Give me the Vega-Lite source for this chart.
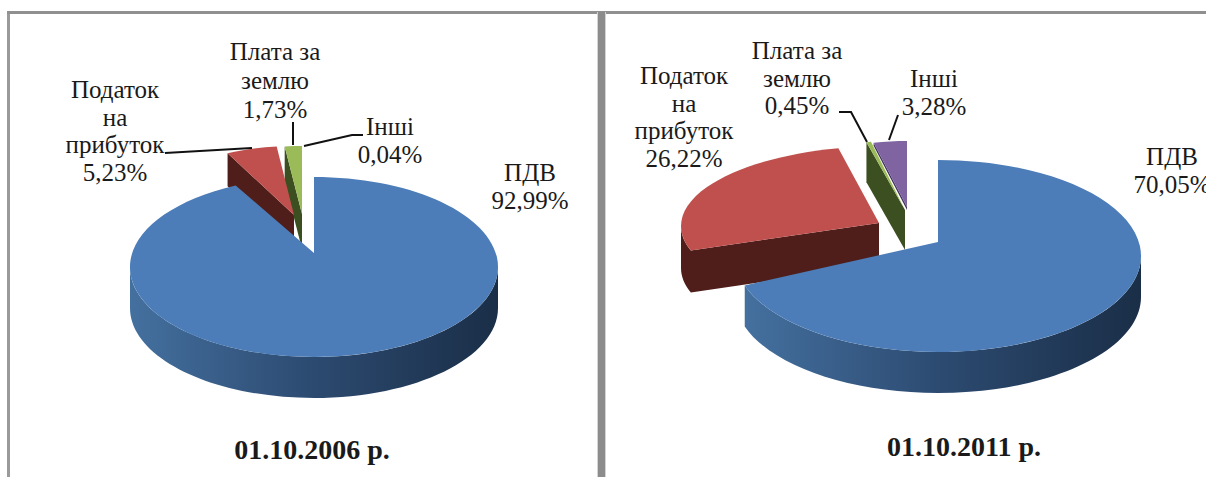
{"$schema":"https://vega.github.io/schema/vega-lite/v6.json","width":1206,"height":477,"padding":0,"autosize":{"type":"fit","contains":"padding"},"background":"white","config":{"view":{"stroke":null},"text":{"font":"Liberation Serif","fontSize":25,"lineHeight":27.5,"lineBreak":"\n","align":"center","baseline":"alphabetic","color":"#1a1a1a"}},
"data":{"values":[
{"chart":"01.10.2006 р.","name":"ПДВ","value":92.99},
{"chart":"01.10.2006 р.","name":"Податок на прибуток","value":5.23},
{"chart":"01.10.2006 р.","name":"Плата за землю","value":1.73},
{"chart":"01.10.2006 р.","name":"Інші","value":0.04},
{"chart":"01.10.2011 р.","name":"ПДВ","value":70.05},
{"chart":"01.10.2011 р.","name":"Податок на прибуток","value":26.22},
{"chart":"01.10.2011 р.","name":"Плата за землю","value":0.45},
{"chart":"01.10.2011 р.","name":"Інші","value":3.28}]},
"transform":[
{"joinaggregate":[{"op":"sum","field":"value","as":"total"}],"groupby":["chart"]},
{"window":[{"op":"sum","field":"value","as":"cum"}],"groupby":["chart"]},
{"calculate":"datum.chart+'|'+datum.name","as":"k"},
{"calculate":"{'01.10.2006 р.|ПДВ':[0,0,184,90,0,-14,41],'01.10.2006 р.|Податок на прибуток':[-20,-45,156,76,-20,-52,33],'01.10.2006 р.|Плата за землю':[-12,-45,156,76,-12,-53,35],'01.10.2006 р.|Інші':[-12,-45,156,76,-12,-53,35],'01.10.2011 р.|ПДВ':[0,0,203,96,0,-14,41],'01.10.2011 р.|Податок на прибуток':[-52,-30,205,80,-59,-33,42],'01.10.2011 р.|Плата за землю':[-33,-38,166,78,-33,-46,40],'01.10.2011 р.|Інші':[-31,-37,163,78,-31,-49,3]}[datum.k]","as":"g"},
{"calculate":"(datum.cum-datum.value)/datum.total*2*PI","as":"a0"},
{"calculate":"datum.cum/datum.total*2*PI","as":"a1"},
{"calculate":"max(datum.a0,PI/2)","as":"vs"},
{"calculate":"min(datum.a1,3*PI/2)","as":"ve"},
{"calculate":"round((datum.g[0]+datum.g[2]*sin(datum.a0))*100)/100+','+round((datum.g[1]-datum.g[3]*cos(datum.a0))*100)/100","as":"p0"},
{"calculate":"round((datum.g[0]+datum.g[2]*sin(datum.a1))*100)/100+','+round((datum.g[1]-datum.g[3]*cos(datum.a1))*100)/100","as":"p1"},
{"calculate":"round((datum.g[0]+datum.g[2]*sin(datum.a0))*100)/100+','+round((datum.g[1]-datum.g[3]*cos(datum.a0)+datum.g[6])*100)/100","as":"p0d"},
{"calculate":"round((datum.g[0]+datum.g[2]*sin(datum.vs))*100)/100+','+round((datum.g[1]-datum.g[3]*cos(datum.vs))*100)/100","as":"v0"},
{"calculate":"round((datum.g[0]+datum.g[2]*sin(datum.ve))*100)/100+','+round((datum.g[1]-datum.g[3]*cos(datum.ve))*100)/100","as":"v1"},
{"calculate":"round((datum.g[0]+datum.g[2]*sin(datum.vs))*100)/100+','+round((datum.g[1]-datum.g[3]*cos(datum.vs)+datum.g[6])*100)/100","as":"v0d"},
{"calculate":"round((datum.g[0]+datum.g[2]*sin(datum.ve))*100)/100+','+round((datum.g[1]-datum.g[3]*cos(datum.ve)+datum.g[6])*100)/100","as":"v1d"},
{"calculate":"datum.g[2]+','+datum.g[3]","as":"rr"},
{"calculate":"'M'+datum.g[4]+','+datum.g[5]+'L'+datum.p0+'A'+datum.rr+' 0 '+(datum.a1-datum.a0>PI?1:0)+' 1 '+datum.p1+'Z'","as":"face"},
{"calculate":"'M'+datum.g[4]+','+datum.g[5]+'L'+datum.p0+'L'+datum.p0d+'L'+datum.g[4]+','+(datum.g[5]+datum.g[6])+'Z'+(datum.ve>datum.vs?'M'+datum.v0+'A'+datum.rr+' 0 0 1 '+datum.v1+'L'+datum.v1d+'A'+datum.rr+' 0 0 0 '+datum.v0d+'Z':'')","as":"wall"},
{"calculate":"{'01.10.2006 р.|Податок на прибуток':'M-149,-114L-62,-119','01.10.2006 р.|Плата за землю':'M-21,-145L-21,-122','01.10.2006 р.|Інші':'M-10,-121L38,-132L49,-132','01.10.2011 р.|Плата за землю':'M-99,-144L-87,-144L-71,-114','01.10.2011 р.|Інші':'M-40,-141L-49,-116'}[datum.k]||''","as":"leader"},
{"calculate":"replace(replace(datum.name,'Плата за ','Плата за\\n'),'Податок на прибуток','Податок\\nна\\nприбуток')+'\\n'+replace(format(datum.value,'.2f'),'.',',')+'%'","as":"label"}
],
"encoding":{"x":{"field":"chart","type":"nominal","scale":{"domain":["01.10.2006 р.","01.10.2011 р."],"range":[314,938],"padding":0},"axis":null},"y":{"field":"chart","type":"nominal","scale":{"domain":["01.10.2006 р.","01.10.2011 р."],"range":[267,256],"padding":0},"axis":null}},
"layer":[
{"mark":{"type":"rule","color":"#9a9a9a","strokeWidth":3},"encoding":{"x":{"value":8.5},"y":{"value":12},"y2":{"value":477}}},
{"mark":{"type":"rule","color":"#8f8f8f","strokeWidth":2},"encoding":{"x":{"value":7},"x2":{"value":1206},"y":{"value":12.5}}},
{"mark":{"type":"rule","color":"#d4d4d4","strokeWidth":8},"encoding":{"x":{"value":601.5},"y":{"value":12},"y2":{"value":477}}},
{"mark":{"type":"rule","color":"#8c8c8c","strokeWidth":6},"encoding":{"x":{"value":601.5},"y":{"value":12},"y2":{"value":477}}},
{"transform":[{"filter":"datum.name!='ПДВ'"}],"mark":{"type":"point","filled":true,"opacity":1,"strokeWidth":0},"encoding":{"size":{"value":4},"shape":{"field":"wall","type":"nominal","scale":null,"legend":null},"color":{"field":"name","type":"nominal","scale":{"domain":["Податок на прибуток","Плата за землю","Інші"],"range":["#4f1e1b","#3c4f21","#40315a"]},"legend":null}}},
{"transform":[{"filter":"datum.name!='ПДВ'"}],"mark":{"type":"point","filled":true,"opacity":1,"strokeWidth":0},"encoding":{"size":{"value":4},"shape":{"field":"face","type":"nominal","scale":null,"legend":null},"color":{"field":"name","type":"nominal","scale":{"domain":["Податок на прибуток","Плата за землю","Інші"],"range":["#c0504d","#9bbb59","#8064a2"]},"legend":null}}},
{"transform":[{"filter":"datum.name=='ПДВ'"}],"mark":{"type":"point","filled":true,"opacity":1,"strokeWidth":0,"fill":{"gradient":"linear","x1":0,"y1":0,"x2":1,"y2":0,"stops":[{"offset":0,"color":"#44709f"},{"offset":0.5,"color":"#2c4a70"},{"offset":1,"color":"#1a2e47"}]}},"encoding":{"size":{"value":4},"shape":{"field":"wall","type":"nominal","scale":null,"legend":null}}},
{"transform":[{"filter":"datum.name=='ПДВ'"}],"mark":{"type":"point","filled":true,"opacity":1,"strokeWidth":0,"fill":"#4c7db8"},"encoding":{"size":{"value":4},"shape":{"field":"face","type":"nominal","scale":null,"legend":null}}},
{"transform":[{"filter":"datum.leader!=''"}],"mark":{"type":"point","filled":false,"opacity":1,"stroke":"#111111","strokeWidth":2},"encoding":{"size":{"value":4},"shape":{"field":"leader","type":"nominal","scale":null,"legend":null}}},
{"transform":[{"filter":"datum.k=='01.10.2006 р.|Податок на прибуток'"}],"mark":{"type":"text","dx":-199,"dy":-169},"encoding":{"text":{"field":"label"}}},
{"transform":[{"filter":"datum.k=='01.10.2006 р.|Плата за землю'"}],"mark":{"type":"text","dx":-39,"dy":-207,"lineHeight":29},"encoding":{"text":{"field":"label"}}},
{"transform":[{"filter":"datum.k=='01.10.2006 р.|Інші'"}],"mark":{"type":"text","dx":76,"dy":-132},"encoding":{"text":{"field":"label"}}},
{"transform":[{"filter":"datum.k=='01.10.2006 р.|ПДВ'"}],"mark":{"type":"text","dx":216,"dy":-86},"encoding":{"text":{"field":"label"}}},
{"transform":[{"filter":"datum.k=='01.10.2011 р.|Податок на прибуток'"}],"mark":{"type":"text","dx":-254,"dy":-172},"encoding":{"text":{"field":"label"}}},
{"transform":[{"filter":"datum.k=='01.10.2011 р.|Плата за землю'"}],"mark":{"type":"text","dx":-141,"dy":-197},"encoding":{"text":{"field":"label"}}},
{"transform":[{"filter":"datum.k=='01.10.2011 р.|Інші'"}],"mark":{"type":"text","dx":-4,"dy":-169},"encoding":{"text":{"field":"label"}}},
{"transform":[{"filter":"datum.k=='01.10.2011 р.|ПДВ'"}],"mark":{"type":"text","dx":234,"dy":-91},"encoding":{"text":{"field":"label"}}},
{"transform":[{"filter":"datum.k=='01.10.2006 р.|ПДВ'"}],"mark":{"type":"text","dx":-2,"dy":192,"fontSize":28,"fontWeight":"bold"},"encoding":{"text":{"field":"chart"}}},
{"transform":[{"filter":"datum.k=='01.10.2011 р.|ПДВ'"}],"mark":{"type":"text","dx":26,"dy":200,"fontSize":28,"fontWeight":"bold"},"encoding":{"text":{"field":"chart"}}}
],
"resolve":{"scale":{"color":"independent"}}}
